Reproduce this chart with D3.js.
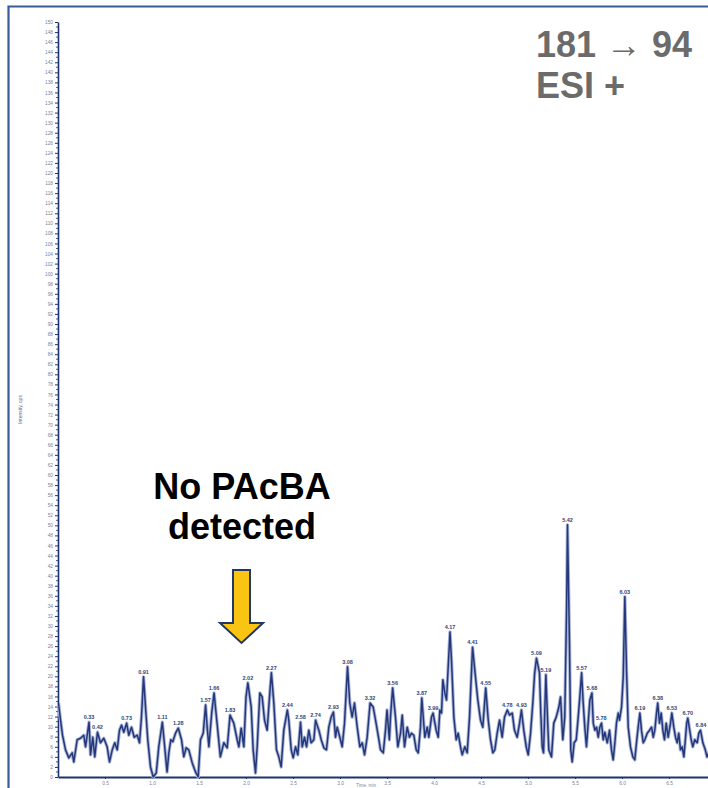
<!DOCTYPE html>
<html>
<head>
<meta charset="utf-8">
<script src="https://cdn.jsdelivr.net/npm/d3@7/dist/d3.min.js"></script>
<style>
  html, body { margin: 0; padding: 0; background: #ffffff; }
  svg { display: block; }
</style>
</head>
<body>
<script>
// MRM trace 181 -> 94 (ESI +): retention time (min) and intensity (cps)
const times = [
  0.005, 0.027, 0.048, 0.080, 0.115, 0.151, 0.168, 0.204, 0.239, 0.274,
  0.293, 0.330, 0.346, 0.370, 0.391, 0.420, 0.452, 0.487, 0.523, 0.548,
  0.577, 0.604, 0.630, 0.654, 0.676, 0.700, 0.730, 0.753, 0.782, 0.811,
  0.843, 0.867, 0.888, 0.910, 0.931, 0.955, 0.984, 1.013, 1.045, 1.072,
  1.110, 1.135, 1.160, 1.179, 1.200, 1.221, 1.250, 1.280, 1.314, 1.338,
  1.364, 1.391, 1.428, 1.463, 1.491, 1.516, 1.545, 1.570, 1.587, 1.605,
  1.635, 1.660, 1.692, 1.727, 1.764, 1.800, 1.830, 1.870, 1.906, 1.924,
  1.949, 1.977, 2.000, 2.020, 2.055, 2.076, 2.101, 2.119, 2.147, 2.172,
  2.197, 2.225, 2.253, 2.270, 2.296, 2.324, 2.349, 2.374, 2.402, 2.440,
  2.455, 2.481, 2.502, 2.527, 2.551, 2.580, 2.598, 2.622, 2.644, 2.668,
  2.693, 2.722, 2.740, 2.775, 2.800, 2.828, 2.856, 2.881, 2.906, 2.930,
  2.952, 2.970, 2.998, 3.023, 3.048, 3.080, 3.104, 3.129, 3.154, 3.183,
  3.211, 3.236, 3.261, 3.289, 3.320, 3.353, 3.378, 3.402, 3.431, 3.460,
  3.484, 3.500, 3.525, 3.537, 3.560, 3.590, 3.615, 3.644, 3.662, 3.686,
  3.715, 3.739, 3.761, 3.785, 3.811, 3.832, 3.856, 3.870, 3.902, 3.928,
  3.945, 3.973, 3.990, 4.023, 4.045, 4.062, 4.080, 4.094, 4.115, 4.133,
  4.151, 4.170, 4.186, 4.211, 4.236, 4.257, 4.282, 4.300, 4.328, 4.353,
  4.378, 4.410, 4.441, 4.466, 4.495, 4.519, 4.550, 4.577, 4.601, 4.626,
  4.647, 4.672, 4.697, 4.725, 4.750, 4.780, 4.803, 4.832, 4.856, 4.885,
  4.910, 4.930, 4.955, 4.981, 5.002, 5.027, 5.051, 5.070, 5.090, 5.122,
  5.136, 5.151, 5.165, 5.190, 5.204, 5.221, 5.250, 5.274, 5.300, 5.328,
  5.346, 5.370, 5.391, 5.410, 5.420, 5.441, 5.455, 5.470, 5.491, 5.513,
  5.534, 5.551, 5.570, 5.587, 5.604, 5.622, 5.640, 5.658, 5.680, 5.694,
  5.711, 5.729, 5.747, 5.764, 5.782, 5.800, 5.817, 5.843, 5.867, 5.888,
  5.906, 5.924, 5.941, 5.960, 5.973, 5.995, 6.013, 6.030, 6.048, 6.066,
  6.090, 6.115, 6.136, 6.154, 6.172, 6.190, 6.207, 6.226, 6.243, 6.268,
  6.293, 6.314, 6.332, 6.349, 6.367, 6.380, 6.399, 6.417, 6.434, 6.452,
  6.470, 6.491, 6.516, 6.530, 6.551, 6.569, 6.587, 6.604, 6.622, 6.640,
  6.658, 6.676, 6.688, 6.700, 6.736, 6.753, 6.774, 6.800, 6.817, 6.835,
  6.860, 6.886, 6.904, 6.926
];
const intensity = [
  14.7, 11.3, 8.3, 5.4, 3.8, 4.8, 3.0, 7.4, 7.7, 8.3,
  6.0, 10.9, 4.4, 7.9, 4.0, 8.9, 6.8, 7.7, 6.0, 3.0,
  5.4, 6.8, 5.4, 9.3, 10.3, 8.9, 10.7, 8.3, 9.9, 7.9,
  8.3, 6.8, 11.9, 19.9, 13.9, 7.4, 2.0, 0.0, 0.8, 6.0,
  10.9, 6.0, 1.0, 4.8, 7.4, 7.0, 8.7, 9.7, 7.4, 4.0,
  5.8, 5.4, 2.8, 1.0, 0.0, 7.4, 8.7, 14.3, 9.9, 6.0,
  12.7, 16.7, 10.7, 4.0, 6.8, 5.8, 12.3, 10.7, 7.4, 6.0,
  9.7, 6.0, 15.9, 18.7, 13.9, 5.4, 0.8, 6.0, 16.7, 15.9,
  11.3, 9.3, 16.7, 20.7, 14.7, 5.4, 4.0, 2.0, 9.3, 13.3,
  11.3, 5.4, 3.8, 6.0, 4.4, 10.9, 6.0, 7.9, 6.0, 9.3,
  6.8, 7.4, 11.3, 9.3, 7.4, 5.8, 5.4, 9.9, 11.9, 12.9,
  7.9, 9.9, 7.9, 6.0, 10.7, 21.9, 14.7, 11.9, 14.7, 9.9,
  6.0, 6.8, 4.4, 7.9, 14.7, 13.9, 11.3, 8.7, 5.4, 4.8,
  9.3, 13.3, 7.4, 11.9, 17.7, 11.9, 6.0, 8.7, 12.3, 6.0,
  9.9, 7.9, 8.7, 8.3, 5.4, 4.8, 9.9, 15.7, 7.9, 9.9,
  7.9, 11.9, 12.7, 9.3, 7.9, 13.3, 12.7, 19.3, 16.7, 15.3,
  21.9, 28.8, 23.2, 11.9, 7.4, 8.7, 6.0, 4.4, 6.0, 4.8,
  11.9, 25.8, 19.9, 15.3, 11.3, 9.9, 17.7, 11.3, 7.4, 4.8,
  5.4, 8.7, 11.3, 7.9, 11.9, 13.3, 12.3, 12.7, 9.3, 7.9,
  10.7, 13.3, 9.3, 6.0, 4.4, 8.7, 14.7, 20.5, 23.6, 20.7,
  12.7, 6.0, 4.8, 20.3, 13.3, 5.4, 4.0, 10.7, 11.9, 13.9,
  15.9, 7.4, 11.9, 33.2, 50.1, 26.6, 5.4, 3.0, 6.8, 7.4,
  11.9, 15.9, 20.7, 14.7, 9.9, 6.0, 10.7, 15.3, 16.7, 10.7,
  9.3, 9.9, 7.9, 9.9, 10.7, 7.4, 8.9, 6.8, 9.3, 5.4,
  3.4, 6.8, 10.7, 12.7, 11.3, 13.9, 19.9, 35.8, 21.3, 9.9,
  6.0, 4.0, 3.4, 6.8, 9.9, 12.7, 9.3, 6.8, 7.4, 8.7,
  9.3, 9.9, 7.9, 9.3, 12.7, 14.7, 10.7, 12.7, 9.3, 7.4,
  10.7, 7.9, 10.7, 12.7, 9.9, 7.9, 6.8, 8.7, 5.4, 6.0,
  4.0, 7.9, 10.7, 11.7, 7.4, 6.0, 7.4, 6.8, 8.7, 9.3,
  6.8, 5.4, 4.0, 5.0
];

// Apex retention times annotated on the trace
const peakTimes = [
  0.33, 0.42, 0.73, 0.91, 1.11, 1.28, 1.57, 1.66, 1.83, 2.02,
  2.27, 2.44, 2.58, 2.74, 2.93, 3.08, 3.32, 3.56, 3.87, 3.99,
  4.17, 4.41, 4.55, 4.78, 4.93, 5.09, 5.19, 5.42, 5.57, 5.68,
  5.78, 6.03, 6.19, 6.38, 6.53, 6.70, 6.84
];

// Axis ticks
const yTickValues = d3.range(0, 151, 2);
const yMinorTicks = d3.range(1, 150, 2);
const xTickValues = [0.5, 1.0, 1.5, 2.0, 2.5, 3.0, 3.5, 4.0, 4.5, 5.0, 5.5, 6.0, 6.5];

const titleLines = ["181 \u2192 94", "ESI +"];
const noteLines = ["No PAcBA", "detected"];

const W = 708, H = 788;
const navy = "#1e3270";

const svg = d3.select("body").append("svg")
  .attr("width", W).attr("height", H)
  .attr("viewBox", `0 0 ${W} ${H}`);

// slide frame (left and top edges)
svg.append("path")
  .attr("d", `M8.5,${H} V6.5 H${W}`)
  .attr("fill", "none")
  .attr("stroke", "#3a5a98")
  .attr("stroke-width", 2.2);

const x = d3.scaleLinear().domain([0, 6.92]).range([58, 708.5]);
const y = d3.scaleLinear().domain([0, 150]).range([777, 22]);

const data = times.map((t, i) => ({ t, v: intensity[i] }));

// y axis: labelled ticks every 2, minor ticks in between
const yAxis = svg.append("g")
  .attr("transform", `translate(${x(0)},0)`)
  .call(d3.axisLeft(y).tickValues(yTickValues).tickSize(3).tickSizeOuter(0).tickPadding(2)
    .tickFormat(d3.format("d")));
yAxis.select(".domain").attr("stroke", navy).attr("stroke-width", 1.6);
yAxis.selectAll(".tick line").attr("stroke", navy).attr("stroke-width", 1);
yAxis.selectAll(".tick text")
  .attr("font-family", "Liberation Sans, Arial, sans-serif")
  .attr("font-size", 4.8).attr("fill", "#76829f");
svg.append("g").selectAll("line").data(yMinorTicks).join("line")
  .attr("x1", x(0) - 2).attr("x2", x(0))
  .attr("y1", d => y(d)).attr("y2", d => y(d))
  .attr("stroke", navy).attr("stroke-width", 0.8);

// x axis
const xAxis = svg.append("g")
  .attr("transform", `translate(0,${y(0)})`)
  .call(d3.axisBottom(x).tickValues(xTickValues).tickSize(2).tickSizeOuter(0).tickPadding(3)
    .tickFormat(d3.format(".1f")));
xAxis.select(".domain").attr("stroke", navy).attr("stroke-width", 2);
xAxis.selectAll(".tick line").attr("stroke", navy);
xAxis.selectAll(".tick text")
  .attr("font-family", "Liberation Sans, Arial, sans-serif")
  .attr("font-size", 4.8).attr("fill", "#76829f");

// axis titles
svg.append("text")
  .attr("transform", `translate(22,${(y(0) + y(150)) / 2 + 10}) rotate(-90)`)
  .attr("text-anchor", "middle")
  .attr("font-family", "Liberation Sans, Arial, sans-serif")
  .attr("font-size", 5).attr("fill", "#5a6690")
  .text("Intensity, cps");
svg.append("text")
  .attr("x", 366).attr("y", 787)
  .attr("text-anchor", "middle")
  .attr("font-family", "Liberation Sans, Arial, sans-serif")
  .attr("font-size", 4.6).attr("fill", "#7c88a8")
  .text("Time, min");

// chromatogram trace
const line = d3.line().x(d => x(d.t)).y(d => y(d.v));
svg.append("path").datum(data)
  .attr("d", line)
  .attr("fill", "none")
  .attr("stroke", "#aab5d5")
  .attr("stroke-width", 3.4)
  .attr("stroke-linejoin", "round");
svg.append("path").datum(data)
  .attr("d", line)
  .attr("fill", "none")
  .attr("stroke", "#24377a")
  .attr("stroke-width", 1.5)
  .attr("stroke-linejoin", "round");

// apex labels
const fmt = d3.format(".2f");
const apex = peakTimes.map(pt => {
  const d = data.reduce((a, b) => Math.abs(b.t - pt) < Math.abs(a.t - pt) ? b : a);
  return { t: pt, v: d.v };
});
svg.append("g").selectAll("text").data(apex).join("text")
  .attr("x", d => x(d.t))
  .attr("y", d => y(d.v) - 3)
  .attr("text-anchor", "middle")
  .attr("font-family", "Liberation Sans, Arial, sans-serif")
  .attr("font-size", 5.5)
  .attr("font-weight", "bold")
  .attr("fill", "#33457a")
  .text(d => fmt(d.t));

// transition / ionisation title
svg.append("g").selectAll("text").data(titleLines).join("text")
  .attr("x", 536)
  .attr("y", (d, i) => 57 + i * 41)
  .attr("font-family", "Liberation Sans, Arial, sans-serif")
  .attr("font-weight", "bold")
  .attr("font-size", 36)
  .attr("fill", "#6b6b6b")
  .text(d => d);

// annotation
svg.append("g").selectAll("text").data(noteLines).join("text")
  .attr("x", 242)
  .attr("y", (d, i) => 499 + i * 40)
  .attr("text-anchor", "middle")
  .attr("font-family", "Liberation Sans, Arial, sans-serif")
  .attr("font-weight", "bold")
  .attr("font-size", 36)
  .attr("fill", "#000000")
  .text(d => d);

// down arrow pointing at the expected retention window
const ax = 241.5;
svg.append("path")
  .attr("d", `M${ax - 8.5},570 H${ax + 8.5} V623 H${ax + 21.5} L${ax},643 L${ax - 21.5},623 H${ax - 8.5} Z`)
  .attr("fill", "#f9c412")
  .attr("stroke", "#1f3864")
  .attr("stroke-width", 2)
  .attr("stroke-linejoin", "miter");
</script>
</body>
</html>
